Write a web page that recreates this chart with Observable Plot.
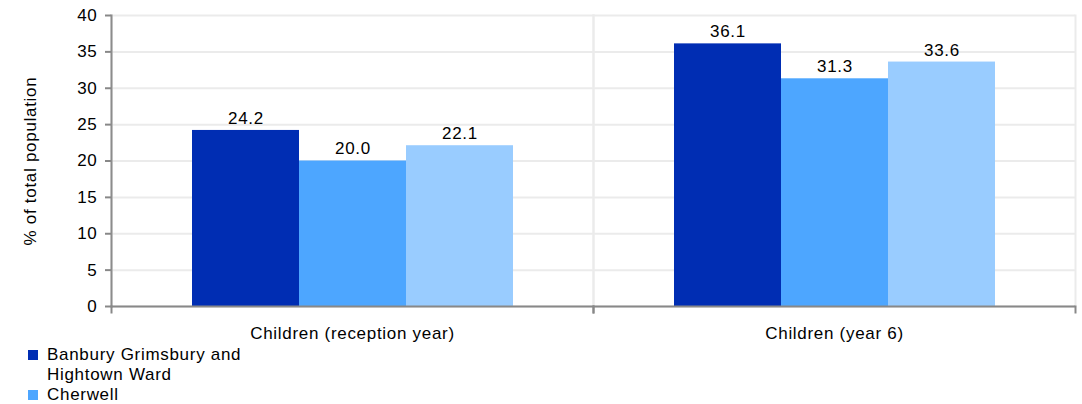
<!DOCTYPE html>
<html>
<head>
<meta charset="utf-8">
<script src="https://cdn.jsdelivr.net/npm/d3@7"></script>
<script src="https://cdn.jsdelivr.net/npm/@observablehq/plot@0.6"></script>
<style>
  body { margin: 0; background: #fff; font-family: "Liberation Sans", Arial, sans-serif; }
  #legend { position: relative; margin-left: 28px; width: 240px; font-size: 17px; letter-spacing: 0.7px; line-height: 20px; color: #000; }
  .item { display: flex; align-items: flex-start; }
  .sw { width: 10px; height: 10px; margin-top: 5px; margin-right: 9px; flex: none; }
</style>
</head>
<body>
<div id="chart"></div>
<div id="legend"></div>
<script>
const categories = ["Children (reception year)", "Children (year 6)"];
const series = ["Banbury Grimsbury and Hightown Ward", "Cherwell", "England"];
const wardValues = [24.2, 36.1];
const cherwellValues = [20.0, 31.3];
const englandValues = [22.1, 33.6];
const colors = ["#002db3", "#4da6ff", "#99ccff"];
const yTicks = [0, 5, 10, 15, 20, 25, 30, 35, 40];

const valueSets = [wardValues, cherwellValues, englandValues];
const data = [];
categories.forEach((c, i) => {
  series.forEach((s, j) => data.push({category: c, series: s, value: valueSets[j][i]}));
});

const chart = Plot.plot({
  width: 1082,
  height: 345,
  marginLeft: 111,
  marginRight: 7,
  marginTop: 15,
  marginBottom: 39,
  style: {fontFamily: "'Liberation Sans', Arial, sans-serif", fontSize: "17px", letterSpacing: "0.7px", color: "#000", background: "#fff"},
  fx: {domain: categories, padding: 0, label: null},
  x: {domain: series, paddingInner: 0, paddingOuter: 0.75, axis: null},
  y: {domain: [0, 40], label: null},
  color: {domain: series, range: colors},
  marks: [
    Plot.gridY(yTicks, {stroke: "#ebebeb", strokeOpacity: 1, strokeWidth: 2}),
    Plot.frame({anchor: "left", stroke: "#ebebeb", strokeWidth: 2}),
    Plot.frame({anchor: "right", stroke: "#ebebeb", strokeWidth: 2}),
    Plot.frame({anchor: "left", facetAnchor: "left", stroke: "#8c8c8c", strokeWidth: 2}),
    Plot.barY(data, {fx: "category", x: "series", y: "value", fill: "series"}),
    Plot.text(data, {fx: "category", x: "series", y: "value", text: d => d.value.toFixed(1), dy: -12, fontSize: 17, fill: "#000"}),
    Plot.ruleY([0], {stroke: "#888", strokeWidth: 2}),
    Plot.frame({anchor: "left", stroke: "#888", strokeWidth: 2, insetTop: 291, insetBottom: -6}),
    Plot.frame({anchor: "right", stroke: "#888", strokeWidth: 2, insetTop: 291, insetBottom: -6}),
    Plot.axisY(yTicks, {tickSize: 6, tickPadding: 8, stroke: "#888", strokeWidth: 2, fill: "#000", fontSize: 17, label: "% of total population", labelAnchor: "center", labelOffset: 88, labelArrow: "none"}),
    Plot.axisFx({anchor: "bottom", tickSize: 0, tickPadding: 20, fontSize: 17, fill: "#000", label: null})
  ]
});
document.getElementById("chart").appendChild(chart);

const legend = document.getElementById("legend");
series.forEach((s, i) => {
  const item = document.createElement("div");
  item.className = "item";
  const sw = document.createElement("span");
  sw.className = "sw";
  sw.style.background = colors[i];
  const label = document.createElement("span");
  label.textContent = s;
  item.appendChild(sw);
  item.appendChild(label);
  legend.appendChild(item);
});
</script>
</body>
</html>
